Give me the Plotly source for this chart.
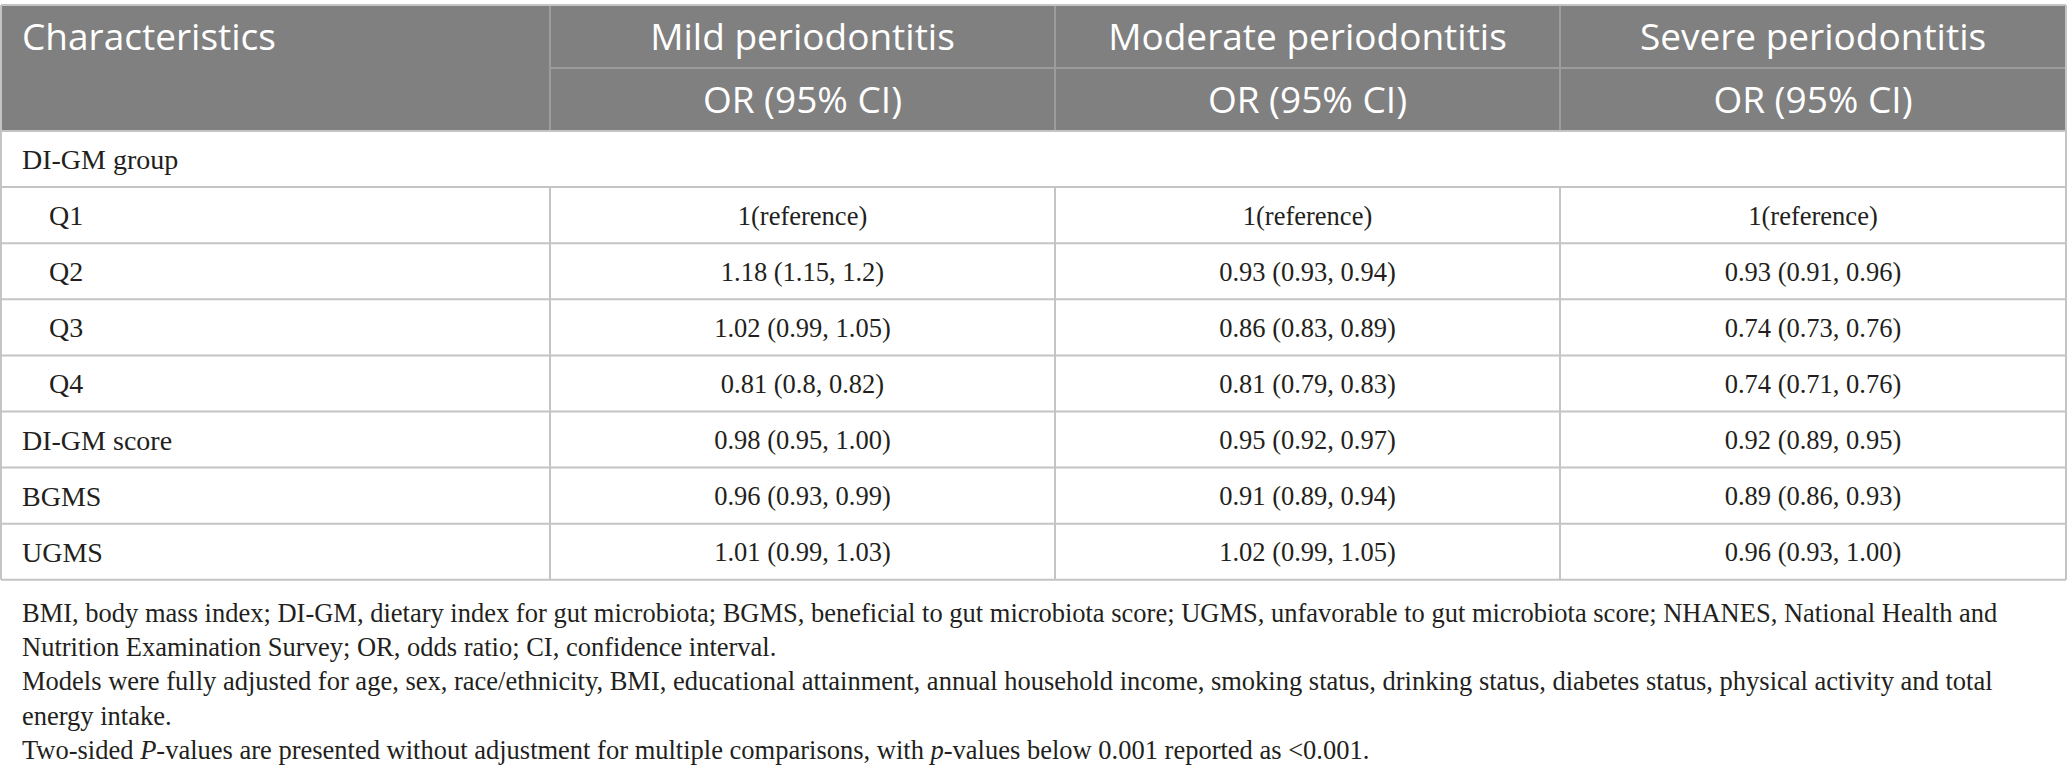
import plotly.graph_objects as go

# table content
header_cols = ["Mild periodontitis", "Moderate periodontitis", "Severe periodontitis"]
header_sub = ["OR (95% CI)", "OR (95% CI)", "OR (95% CI)"]
row_labels = ["DI-GM group", "Q1", "Q2", "Q3", "Q4", "DI-GM score", "BGMS", "UGMS"]
row_indent = [False, True, True, True, True, False, False, False]
mild = ["", "1(reference)", "1.18 (1.15, 1.2)", "1.02 (0.99, 1.05)", "0.81 (0.8, 0.82)",
        "0.98 (0.95, 1.00)", "0.96 (0.93, 0.99)", "1.01 (0.99, 1.03)"]
moderate = ["", "1(reference)", "0.93 (0.93, 0.94)", "0.86 (0.83, 0.89)", "0.81 (0.79, 0.83)",
            "0.95 (0.92, 0.97)", "0.91 (0.89, 0.94)", "1.02 (0.99, 1.05)"]
severe = ["", "1(reference)", "0.93 (0.91, 0.96)", "0.74 (0.73, 0.76)", "0.74 (0.71, 0.76)",
          "0.92 (0.89, 0.95)", "0.89 (0.86, 0.93)", "0.96 (0.93, 1.00)"]
footnotes = [
    "BMI, body mass index; DI-GM, dietary index for gut microbiota; BGMS, beneficial to gut microbiota score; "
    "UGMS, unfavorable to gut microbiota score; NHANES, National Health and",
    "Nutrition Examination Survey; OR, odds ratio; CI, confidence interval.",
    "Models were fully adjusted for age, sex, race/ethnicity, BMI, educational attainment, annual household income, "
    "smoking status, drinking status, diabetes status, physical activity and total",
    "energy intake.",
    "Two-sided <i>P</i>-values are presented without adjustment for multiple comparisons, with <i>p</i>-values "
    "below 0.001 reported as &lt;0.001.",
]

W, H = 2068, 783
col_edges = [1, 550, 1055, 1560, 2066]
top, mid, head_bot = 5, 68, 131
row_h = 56.1
n_rows = len(row_labels)
row_lines = [head_bot + i * row_h for i in range(n_rows + 1)]
row_mid = [head_bot + (i + 0.5) * row_h + 3 for i in range(n_rows)]
foot_y0, foot_dy = 615, 34.3

HEAD_BG = "#808080"
HEAD_LINE = "#9c9c9c"
GRID = "#c4c4c4"
TXT = "#231f20"
SANS = "Open Sans"
SERIF = "Liberation Serif"

fig = go.Figure()
shapes = []

# header background
shapes.append(dict(type="rect", x0=col_edges[0], x1=col_edges[-1], y0=top, y1=head_bot,
                   fillcolor=HEAD_BG, line_width=0, layer="below"))
# header inner lines
shapes.append(dict(type="line", x0=col_edges[1], x1=col_edges[-1], y0=mid, y1=mid,
                   line=dict(color=HEAD_LINE, width=2)))
for x in col_edges[1:-1]:
    shapes.append(dict(type="line", x0=x, x1=x, y0=top, y1=head_bot,
                       line=dict(color=HEAD_LINE, width=2)))

# body horizontal lines
for y in [top] + row_lines:
    shapes.append(dict(type="line", x0=col_edges[0], x1=col_edges[-1], y0=y, y1=y,
                       line=dict(color=GRID, width=2)))
# outer verticals
for x in (col_edges[0], col_edges[-1]):
    shapes.append(dict(type="line", x0=x, x1=x, y0=top, y1=row_lines[-1],
                       line=dict(color=GRID, width=2)))
# inner verticals (the group row spans all columns)
for x in col_edges[1:-1]:
    shapes.append(dict(type="line", x0=x, x1=x, y0=row_lines[1], y1=row_lines[-1],
                       line=dict(color=GRID, width=2)))

# header text
head_y1 = (top + mid) / 2 + 4
head_y2 = (mid + head_bot) / 2 + 4
fig.add_trace(go.Scatter(x=[col_edges[0] + 21], y=[head_y1], text=["Characteristics"],
                         mode="text", textposition="middle right",
                         textfont=dict(family=SANS, size=37, color="white"), hoverinfo="skip"))
centers = [(col_edges[i] + col_edges[i + 1]) / 2 for i in range(1, 4)]
fig.add_trace(go.Scatter(x=centers, y=[head_y1] * 3, text=header_cols, mode="text",
                         textposition="middle center",
                         textfont=dict(family=SANS, size=37, color="white"), hoverinfo="skip"))
fig.add_trace(go.Scatter(x=centers, y=[head_y2] * 3, text=header_sub, mode="text",
                         textposition="middle center",
                         textfont=dict(family=SANS, size=37, color="white"), hoverinfo="skip"))

# row labels
fig.add_trace(go.Scatter(x=[col_edges[0] + (48 if ind else 21) for ind in row_indent], y=row_mid,
                         text=row_labels, mode="text", textposition="middle right",
                         textfont=dict(family=SERIF, size=28, color=TXT), hoverinfo="skip"))
# values
for cx, vals in zip(centers, [mild, moderate, severe]):
    fig.add_trace(go.Scatter(x=[cx] * n_rows, y=row_mid, text=vals, mode="text",
                             textposition="middle center",
                             textfont=dict(family=SERIF, size=26.5, color=TXT), hoverinfo="skip"))

# footnotes
fig.add_trace(go.Scatter(x=[col_edges[0] + 21] * len(footnotes),
                         y=[foot_y0 + i * foot_dy for i in range(len(footnotes))],
                         text=footnotes, mode="text", textposition="middle right",
                         textfont=dict(family=SERIF, size=26.5, color=TXT), hoverinfo="skip"))

fig.update_layout(
    width=W, height=H, margin=dict(l=0, r=0, t=0, b=0),
    paper_bgcolor="white", plot_bgcolor="white", showlegend=False,
    shapes=shapes,
    xaxis=dict(range=[0, W], visible=False, fixedrange=True),
    yaxis=dict(range=[H, 0], visible=False, fixedrange=True),
)
fig.write_html("out.html", config={"displayModeBar": False},
               post_script="document.body.style.margin='0';document.body.style.overflow='hidden';")
